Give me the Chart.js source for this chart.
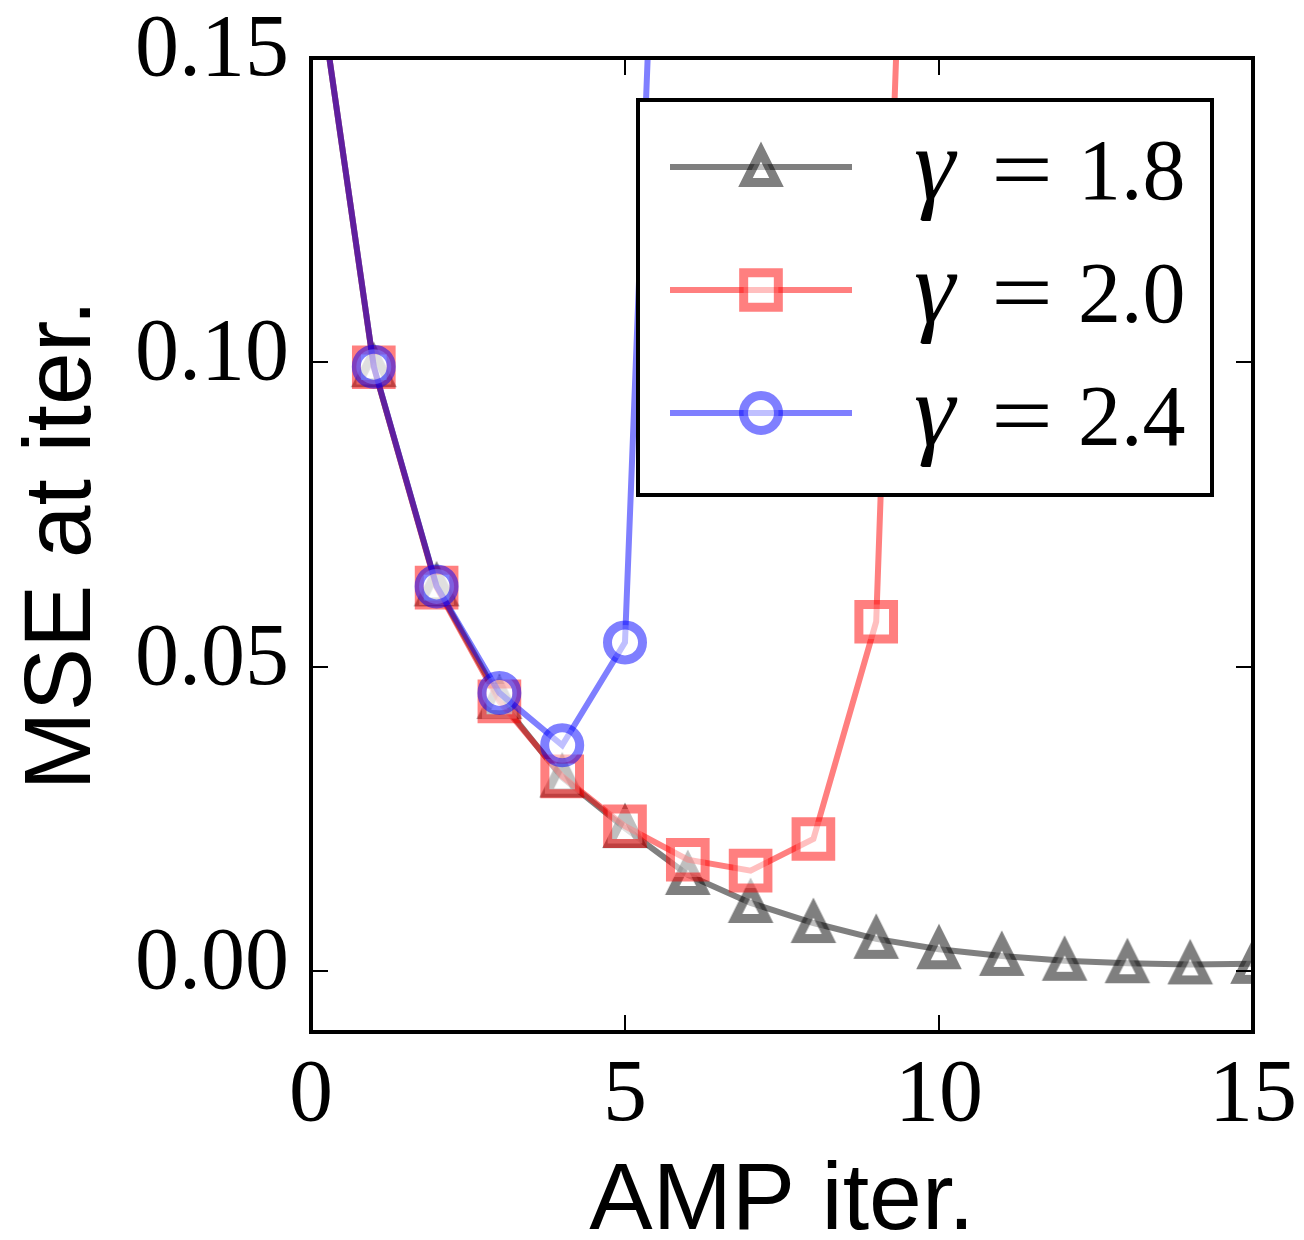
<!DOCTYPE html>
<html><head><meta charset="utf-8">
<script src="https://cdn.jsdelivr.net/npm/chart.js@4/dist/chart.umd.min.js"></script>
<style>html,body{margin:0;padding:0;background:#fff;}canvas{display:block;}</style>
</head><body>
<canvas id="c" width="1304" height="1240"></canvas>
<script>
// ---- data ----
const iterations = [0,1,2,3,4,5,6,7,8,9,10,11,12,13,14,15];
const mseGamma18 = [0.171,0.0992,0.0632,0.0447,0.0318,0.0235,0.0158,0.0112,0.0079,0.0053,0.0036,0.0025,0.0017,0.0013,0.0011,0.0012];
const mseGamma20 = [0.171,0.0992,0.0630,0.0443,0.0320,0.0238,0.0183,0.0165,0.0217,0.0574,0.35];
const mseGamma24 = [0.171,0.0993,0.0632,0.0457,0.0371,0.0540,0.32];
const gammaLabels = ['1.8','2.0','2.4'];
const xTickValues = [0,5,10,15];
const xTickLabels = ['0','5','10','15'];
const yTickValues = [0,0.05,0.10,0.15];
const yTickLabels = ['0.00','0.05','0.10','0.15'];
const xTitle = 'AMP iter.';
const yTitle = 'MSE at iter.';

// ---- styles ----
const GRAY = 'rgba(0,0,0,0.5)', RED = 'rgba(255,0,0,0.5)', BLUE = 'rgba(0,0,255,0.5)';
const FACE = 'rgba(255,255,255,0.5)';
const SERIF = '"Liberation Serif", "DejaVu Serif", serif';
const SANS = '"Liberation Sans", Arial, sans-serif';

function makeTriangle(stroke) {
  const c = document.createElement('canvas');
  c.width = 70; c.height = 70;
  const g = c.getContext('2d');
  const s = 15.5, cx = 35, cy = 35;
  g.beginPath();
  g.moveTo(cx, cy - s); g.lineTo(cx - s, cy + s); g.lineTo(cx + s, cy + s); g.closePath();
  g.fillStyle = FACE; g.fill();
  g.lineJoin = 'miter'; g.lineWidth = 9; g.strokeStyle = stroke; g.stroke();
  return c;
}
const triImg = makeTriangle(GRAY);

function toPoints(vals) { return vals.map((v, i) => ({x: iterations[i], y: v})); }

const seriesStyles = [
  {color: GRAY, style: triImg, radius: 22},
  {color: RED, style: 'rect', radius: 24.5},
  {color: BLUE, style: 'circle', radius: 17.5}
];
const seriesData = [mseGamma18, mseGamma20, mseGamma24];

const frameTicks = {
  id: 'frameTicks',
  afterDatasetsDraw(chart) {
    const {ctx, chartArea: {left, right, top, bottom}} = chart;
    const xs = chart.scales.x, ys = chart.scales.y;
    ctx.save();
    ctx.strokeStyle = '#000'; ctx.lineWidth = 2;
    ctx.beginPath();
    yTickValues.forEach(v => {
      const py = Math.round(ys.getPixelForValue(v));
      ctx.moveTo(left, py); ctx.lineTo(left + 17, py);
      ctx.moveTo(right, py); ctx.lineTo(right - 17, py);
    });
    xTickValues.forEach(v => {
      const px = Math.round(xs.getPixelForValue(v));
      ctx.moveTo(px, bottom); ctx.lineTo(px, bottom - 17);
      ctx.moveTo(px, top); ctx.lineTo(px, top + 17);
    });
    ctx.stroke();
    ctx.lineWidth = 4;
    ctx.strokeRect(left, top, right - left, bottom - top);
    ctx.restore();
  }
};

function drawMarker(ctx, st, x, y) {
  if (st.style === 'rect' || st.style === 'circle') {
    ctx.beginPath();
    if (st.style === 'rect') {
      const h = Math.SQRT1_2 * st.radius;
      ctx.rect(x - h, y - h, 2 * h, 2 * h);
    } else {
      ctx.arc(x, y, st.radius, 0, Math.PI * 2);
    }
    ctx.fillStyle = FACE; ctx.fill();
    ctx.lineWidth = 9; ctx.strokeStyle = st.color; ctx.stroke();
  } else {
    ctx.drawImage(st.style, x - st.style.width / 2, y - st.style.height / 2);
  }
}

const customLegend = {
  id: 'customLegend',
  afterDraw(chart) {
    const ctx = chart.ctx;
    const bx = 638, by = 100, bw = 574, bh = 395;
    ctx.save();
    ctx.fillStyle = '#fff';
    ctx.fillRect(bx, by, bw, bh);
    ctx.lineWidth = 4; ctx.strokeStyle = '#000';
    ctx.strokeRect(bx, by, bw, bh);
    const rows = [167, 290, 413];
    gammaLabels.forEach((lab, i) => {
      const y = rows[i], st = seriesStyles[i];
      ctx.beginPath();
      ctx.moveTo(670, y); ctx.lineTo(852, y);
      ctx.lineWidth = 6; ctx.strokeStyle = st.color; ctx.lineCap = 'butt'; ctx.stroke();
      drawMarker(ctx, st, 761, y);
      const base = y + 32;
      ctx.fillStyle = '#000';
      ctx.textBaseline = 'alphabetic';
      ctx.textAlign = 'left';
      ctx.font = 'italic 104px ' + SERIF;
      ctx.fillText('\u03B3', 914, base);
      ctx.save();
      ctx.translate(1022, base);
      ctx.scale(1.25, 1);
      ctx.font = '88px ' + SERIF;
      ctx.textAlign = 'center';
      ctx.fillText('=', 0, 0);
      ctx.restore();
      ctx.font = '86px ' + SERIF;
      ctx.textAlign = 'left';
      ctx.fillText(lab, 1078, base);
    });
    ctx.restore();
  }
};

const datasets = seriesData.map((vals, i) => ({
  label: '\u03B3 = ' + gammaLabels[i],
  data: toPoints(vals),
  borderColor: seriesStyles[i].color,
  backgroundColor: FACE,
  borderWidth: 6,
  pointStyle: seriesStyles[i].style,
  pointRadius: seriesStyles[i].radius,
  pointBorderWidth: 9,
  pointBorderColor: seriesStyles[i].color,
  pointBackgroundColor: FACE,
  tension: 0,
  fill: false,
  order: 3 - i
}));

new Chart(document.getElementById('c'), {
  type: 'line',
  data: {datasets},
  plugins: [frameTicks, customLegend],
  options: {
    responsive: false,
    animation: false,
    devicePixelRatio: 1,
    layout: {padding: {top: 58, right: 51, left: 0, bottom: 0}},
    plugins: {legend: {display: false}, tooltip: {enabled: false}},
    scales: {
      x: {
        type: 'linear', min: 0, max: 15,
        afterBuildTicks: s => { s.ticks = xTickValues.map(v => ({value: v})); },
        afterFit: s => { s.height = 208; s.paddingLeft = 0; s.paddingRight = 0; s.paddingTop = 0; s.paddingBottom = 0; },
        grid: {display: false, drawTicks: false},
        border: {display: false},
        ticks: {
          autoSkip: false, maxRotation: 0, padding: 12, color: '#000',
          font: {family: SERIF, size: 88},
          callback: (v) => xTickLabels[xTickValues.indexOf(v)]
        },
        title: {display: true, text: xTitle, color: '#000',
          font: {family: SANS, size: 95, lineHeight: 0.8}, padding: {top: 0, bottom: -1}}
      },
      y: {
        type: 'linear', min: -0.01, max: 0.15,
        afterBuildTicks: s => { s.ticks = yTickValues.map(v => ({value: v})); },
        afterFit: s => { s.width = 311; s.paddingLeft = 0; s.paddingRight = 0; s.paddingTop = 0; s.paddingBottom = 0; },
        grid: {display: false, drawTicks: false},
        border: {display: false},
        ticks: {
          autoSkip: false, padding: 22, labelOffset: -6, color: '#000',
          font: {family: SERIF, size: 88},
          callback: (v) => yTickLabels[yTickValues.indexOf(v)]
        },
        title: {display: true, text: yTitle, color: '#000',
          font: {family: SANS, size: 95, lineHeight: 0.8}, padding: {top: 26, bottom: 0}}
      }
    }
  }
});
</script>
</body></html>
